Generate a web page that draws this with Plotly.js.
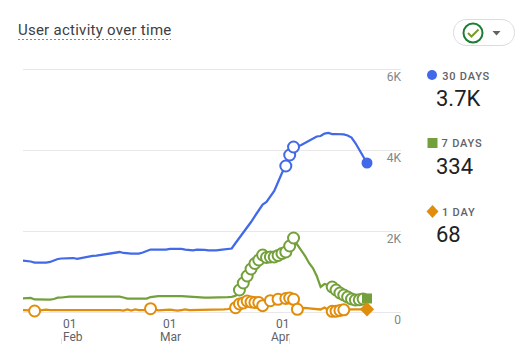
<!DOCTYPE html>
<html><head><meta charset="utf-8">
<script src="https://cdn.plot.ly/plotly-3.0.1.min.js"></script>
<style>html,body{margin:0;padding:0;background:#fff}#c{width:521px;height:359px}</style>
</head><body><div id="c"></div>
<script>
const dayIdx = [0,1,2,3,4,5,6,7,8,9,10,11,12,13,14,15,16,17,18,19,20,21,22,23,24,25,26,27,28,29,30,31,32,33,34,35,36,37,38,39,40,41,42,43,44,45,46,47,48,49,50,51,52,53,54,55,56,57,58,59,60,61,62,63,64,65,66,67,68,69,70,71,72,73,74,75,76,77,78,79,80,81,82,83,84,85,86,87,88,89];
const days30 = [1267,1259,1247,1222,1217,1217,1222,1235,1272,1309,1321,1321,1333,1333,1314,1333,1358,1370,1383,1390,1407,1420,1444,1457,1469,1481,1457,1444,1444,1444,1444,1469,1506,1543,1543,1538,1538,1543,1556,1560,1563,1556,1543,1531,1523,1538,1538,1531,1519,1513,1519,1531,1543,1556,1568,1704,1827,1951,2074,2222,2370,2518,2654,2716,2864,2988,3210,3432,3605,3876,4074,4086,4123,4173,4222,4284,4333,4346,4407,4420,4395,4395,4395,4383,4358,4308,4173,4000,3839,3679];
const days7 = [338,341,346,309,304,304,304,304,321,353,358,375,378,378,378,378,378,378,370,378,378,378,378,378,378,378,358,333,328,328,328,328,333,370,388,390,395,395,405,412,395,390,383,375,360,353,353,353,353,353,353,353,353,365,375,402,543,716,889,1062,1197,1284,1407,1346,1358,1358,1395,1444,1481,1630,1827,1654,1531,1383,1210,1086,889,617,691,667,617,543,469,420,370,321,296,301,321,334];
const days1 = [49,49,42,25,25,49,57,44,49,49,49,49,49,49,49,49,49,49,49,62,49,49,49,49,49,49,37,62,37,62,49,49,49,81,62,42,49,62,57,44,37,49,62,49,49,49,49,49,49,49,62,62,62,74,86,106,198,222,272,247,235,235,156,222,279,296,314,309,333,346,314,67,86,99,91,86,74,62,111,49,17,20,37,54,67,62,62,57,62,68];
const open30 = [68,69,70];
const open7 = [56,57,58,59,60,61,62,63,64,65,66,67,68,69,70,80,81,82,83,84,85,86,87,88];
const open1 = [3,33,55,56,57,58,59,60,61,62,64,66,68,69,70,71,80,81,82,83];
const monthDays = [10,38,69];
const monthTop = ['01','01','01'];
const monthNames = ['Feb','Mar','Apr'];
const yTicks = [0,2000,4000,6000];
const yLabels = ['0','2K','4K','6K'];
const cards = [
  {label:'30 DAYS', value:'3.7K'},
  {label:'7 DAYS', value:'334'},
  {label:'1 DAY', value:'68'}
];
const BLUE='#4169e8', GREEN='#73a03a', ORANGE='#e08d0b';
const W=521,H=359;
const px=v=>v/W, py=v=>1-v/H;
const series=[[days7,GREEN,open7,'square',10],[days1,ORANGE,open1,'diamond',11],[days30,BLUE,open30,'circle',11]];
const traces=[];
series.forEach(([vals,col])=>traces.push({x:dayIdx,y:vals,mode:'lines',line:{color:col,width:2.25,shape:'linear'},cliponaxis:false,hoverinfo:'skip'}));
series.forEach(([vals,col,open,sym,size])=>{
  traces.push({x:open,y:open.map(d=>vals[d]),mode:'markers',cliponaxis:false,hoverinfo:'skip',
    marker:{symbol:'circle',size:11,color:'#fff',line:{color:col,width:2}}});
  traces.push({x:[dayIdx[dayIdx.length-1]],y:[vals[vals.length-1]],mode:'markers',cliponaxis:false,hoverinfo:'skip',
    marker:{symbol:sym,size:size,color:col}});
});
const txt=(x,y,text,size,color,anchor,extra)=>Object.assign({xref:'paper',yref:'paper',x:px(x),y:py(y),text,showarrow:false,xanchor:anchor||'left',yanchor:'middle',font:{family:'Roboto',size,color},borderpad:0,borderwidth:0},extra||{});
const tickAnch=['left','center','right'], tickX=[63,170,290];
const annotations=[
  txt(21,30,'User activity over time',15,'#3c4043','left'),
  txt(444.5,76,cards[0].label,11,'#5f6368','left',{font:{family:'Roboto',size:11,color:'#5f6368',weight:500}}),
  txt(458,98,cards[0].value,22,'#202124','center'),
  txt(444,144,cards[1].label,11,'#5f6368','left',{font:{family:'Roboto',size:11,color:'#5f6368',weight:500}}),
  txt(454.5,166,cards[1].value,22,'#202124','center'),
  txt(444,212,cards[2].label,11,'#5f6368','left',{font:{family:'Roboto',size:11,color:'#5f6368',weight:500}}),
  txt(448,234,cards[2].value,22,'#202124','center')
];
monthDays.forEach((d,i)=>{
  annotations.push(txt(tickX[i],323.5,monthTop[i],12,'#5f6368',tickAnch[i]));
  annotations.push(txt(tickX[i],336.5,monthNames[i],12,'#5f6368',tickAnch[i]));
});
const P=(x,y)=>`${x/W} ${1-y/H}`;
const shapes=[
  {type:'line',xref:'paper',yref:'paper',x0:px(18),x1:px(171),y0:py(39.5),y1:py(39.5),line:{color:'#80868b',width:1,dash:'2px,2px'}},
  {type:'path',xref:'paper',yref:'paper',line:{color:'#dadce0',width:1},fillcolor:'#fff',
   path:`M ${P(467,19.5)} L ${P(501,19.5)} C ${P(519,19.5)} ${P(519,45.5)} ${P(501,45.5)} L ${P(467,45.5)} C ${P(449,45.5)} ${P(449,19.5)} ${P(467,19.5)} Z`},
  {type:'circle',xref:'paper',yref:'paper',x0:px(463.5),x1:px(482.5),y0:py(23.5),y1:py(42.5),line:{color:'#1e7d34',width:2},fillcolor:'#fff'},
  {type:'path',xref:'paper',yref:'paper',line:{color:'#7a9a2a',width:2},path:`M ${P(468,33)} L ${P(471.5,36.5)} L ${P(478.5,29.5)}`},
  {type:'path',xref:'paper',yref:'paper',line:{width:0},fillcolor:'#5f6368',path:`M ${P(492.5,31)} L ${P(500.5,31)} L ${P(496.5,35.5)} Z`},
  {type:'circle',xref:'paper',yref:'paper',x0:px(427),x1:px(437),y0:py(70),y1:py(80),line:{width:0},fillcolor:BLUE},
  {type:'rect',xref:'paper',yref:'paper',x0:px(427.5),x1:px(437.5),y0:py(138),y1:py(148),line:{width:0},fillcolor:GREEN},
  {type:'path',xref:'paper',yref:'paper',line:{width:0},fillcolor:ORANGE,path:`M ${P(432.5,205)} L ${P(438.5,211.5)} L ${P(432.5,218)} L ${P(426.5,211.5)} Z`}
];
const layout={width:W,height:H,margin:{l:0,r:0,t:0,b:0},paper_bgcolor:'#fff',plot_bgcolor:'#fff',showlegend:false,
  font:{family:'Roboto'},
  xaxis:{domain:[px(23),px(401)],range:[0,(401-23)/3.865],tickmode:'array',tickvals:monthDays,ticktext:['','',''],ticks:'outside',ticklen:6,tickcolor:'#e3e3e3',tickwidth:1,showgrid:false,zeroline:false,showline:false,showticklabels:false,fixedrange:true},
  yaxis:{domain:[(H-337)/H,(H-44)/H],range:[-25/0.0405,(312-44)/0.0405],side:'right',tickmode:'array',tickvals:yTicks,ticktext:yLabels,ticklabelposition:'inside',ticklabelshift:8,ticklabelstandoff:-3,ticks:'',gridcolor:'#e8e8e8',gridwidth:1,zeroline:false,showline:false,tickfont:{family:'Roboto',size:12,color:'#80868b'},fixedrange:true},
  annotations,shapes};
Plotly.newPlot('c',traces,layout,{displayModeBar:false,staticPlot:true}).then(()=>{
  document.querySelectorAll('.annotation-text').forEach(t=>{
    if(/DAY/.test(t.textContent)) t.style.letterSpacing='0.8px';
    if(/User/.test(t.textContent)) t.style.letterSpacing='0.27px';
  });
});
</script></body></html>
